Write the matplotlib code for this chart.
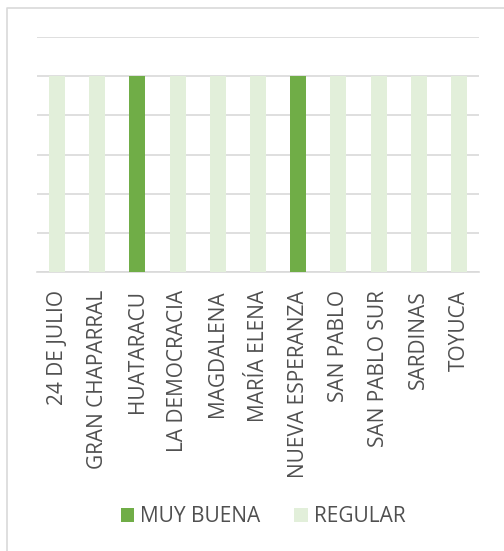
import numpy as np
import matplotlib.pyplot as plt
from matplotlib.lines import Line2D

barrios = ["24 DE JULIO", "GRAN CHAPARRAL", "HUATARACU", "LA DEMOCRACIA",
           "MAGDALENA", "MARÍA ELENA", "NUEVA ESPERANZA", "SAN PABLO",
           "SAN PABLO SUR", "SARDINAS", "TOYUCA"]
muy_buena = [0, 0, 1, 0, 0, 0, 1, 0, 0, 0, 0]
regular = [1, 1, 0, 1, 1, 1, 0, 1, 1, 1, 1]

verde = "#70AD47"
verde_claro = "#E2EFDA"
gris = "#505050"

plt.rcParams['font.family'] = ['Open Sans', 'DejaVu Sans']

W, H = 504, 551
fig = plt.figure(figsize=(W / 100, H / 100), dpi=100)

# marco del gráfico: solo borde izquierdo y superior quedan a la vista
fig.lines.append(Line2D([7 / W, 7 / W, 1.05], [-0.05, 1 - 8 / H, 1 - 8 / H],
                        transform=fig.transFigure, color="#D9D9D9",
                        linewidth=1.2))

ax = fig.add_axes([37 / W, 1 - 272 / H, (479 - 37) / W, (272 - 37) / H])
x = np.arange(len(barrios))
ax.bar(x, muy_buena, width=0.4, color=verde, label="MUY BUENA", zorder=3)
ax.bar(x, regular, width=0.4, bottom=muy_buena, color=verde_claro,
       label="REGULAR", zorder=3)

ax.set_xlim(-0.5, len(barrios) - 0.5)
ax.set_ylim(0, 1.2)
ax.set_yticks(np.arange(0, 1.21, 0.2))
ax.yaxis.grid(True, color="#D9D9D9", linewidth=1.2, zorder=0)
ax.tick_params(axis="y", length=0, labelleft=False)
ax.set_xticks(x)
ax.set_xticklabels(barrios, rotation=90, fontsize=15, color=gris)
ax.tick_params(axis="x", length=0, pad=13)
for s in ["top", "right", "left"]:
    ax.spines[s].set_visible(False)
ax.spines["bottom"].set_color("#D9D9D9")
ax.spines["bottom"].set_linewidth(1.2)

fig.legend(loc="center", bbox_to_anchor=(263 / W, 1 - 517 / H), ncol=2,
           frameon=False, fontsize=15, labelcolor=gris, handlelength=0.65,
           handleheight=0.65, handletextpad=0.3, columnspacing=1.6)

fig.savefig("out.png", dpi=100)
